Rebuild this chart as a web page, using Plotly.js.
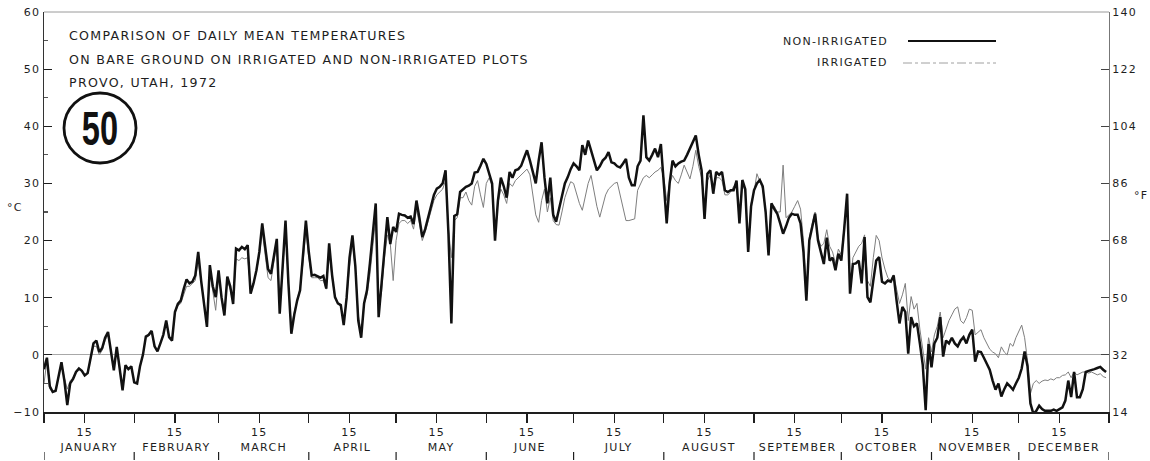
<!DOCTYPE html>
<html><head><meta charset="utf-8">
<script src="https://cdn.plot.ly/plotly-3.0.1.min.js"></script>
<style>
html,body{margin:0;padding:0;background:#fff;}
#chart{width:1150px;height:461px;}
svg text{letter-spacing:1.3px;}
#chart .annotation[data-index="0"] text{letter-spacing:0;transform:scaleX(0.68);transform-box:fill-box;transform-origin:center;}
</style></head><body><div id="chart"></div>
<script>
// ---- categories / ticks ----
const monthNames = ['JANUARY','FEBRUARY','MARCH','APRIL','MAY','JUNE','JULY','AUGUST','SEPTEMBER','OCTOBER','NOVEMBER','DECEMBER'];
const monthLengths = [31,29,31,30,31,30,31,31,30,31,30,31];
const midMonthLabel = '15';
const celsiusTicks = [-10,0,10,20,30,40,50,60];
const fahrenheitTicks = [14,32,50,68,86,104,122,140];

// ---- daily mean temperature, deg C, NON-IRRIGATED plot ----
const nonJan = [-2.5,-0.5,-5.5,-6.5,-6.3,-3.5,-1.3,-4.5,-8.8,-5.0,-4.2,-3.0,-2.4,-2.8,-3.6,-3.2,-0.5,2.0,2.5,0.5,1.2,3.0,4.0,1.0,-2.7,1.4,-2.0,-6.2,-1.8,-2.5,-2.0];
const nonFeb = [-4.8,-5.0,-2.0,0.0,3.2,3.5,4.2,1.5,0.6,2.0,3.5,6.0,3.1,2.5,7.5,8.9,9.5,11.5,13.2,12.5,12.8,13.9,18.0,13.0,8.5,4.9,15.7,12.0,10.1];
const nonMar = [14.8,10.1,6.9,13.7,12.0,8.9,18.6,18.3,18.9,18.5,19.2,10.7,12.5,14.8,18.0,23.0,19.0,15.0,14.2,17.0,20.3,7.2,15.0,23.5,12.5,3.7,7.0,9.5,11.3,18.3,23.5];
const nonApr = [18.0,13.9,14.0,13.8,13.5,13.8,11.6,19.5,14.0,10.1,9.0,8.7,5.2,10.0,17.0,20.9,15.5,6.0,3.0,9.0,11.3,16.0,22.0,26.5,6.6,12.0,18.0,24.1,19.4,22.4];
const nonMay = [21.5,24.7,24.5,24.4,24.0,24.2,22.9,27.0,24.0,20.6,22.0,24.0,26.5,28.0,29.1,29.4,30.0,32.3,21.1,5.5,24.3,24.6,28.5,29.0,29.4,29.6,30.0,31.9,32.0,33.1,34.3];
const nonJun = [33.4,31.5,30.0,20.0,27.0,31.0,29.5,27.5,32.0,31.0,32.3,32.5,33.1,34.5,35.8,34.0,32.0,30.0,34.0,37.2,31.0,26.5,31.0,24.5,23.3,25.5,28.0,30.0,31.1,32.5];
const nonJul = [33.5,33.0,32.3,36.7,35.0,37.5,35.8,34.0,32.3,33.0,34.0,34.5,35.5,33.7,33.5,33.0,32.8,33.5,34.3,31.0,29.7,29.7,33.0,34.0,41.9,34.6,34.0,35.0,36.1,34.6,36.9];
const nonAug = [30.0,23.0,30.0,34.0,33.0,33.5,33.8,34.0,35.0,36.1,37.0,38.4,35.0,32.3,23.8,31.7,32.3,28.2,32.0,31.5,32.0,28.8,28.5,28.8,28.8,30.5,23.0,30.6,29.0,18.0,26.0];
const nonSep = [28.8,30.0,30.6,29.5,25.0,17.4,26.5,25.5,24.7,23.0,21.2,22.5,24.0,24.7,24.5,24.5,23.0,18.0,9.5,20.0,22.5,24.7,20.0,18.0,15.9,20.5,16.5,17.0,14.8,17.7];
const nonOct = [16.5,22.0,28.2,10.7,15.9,16.0,16.5,12.5,20.6,10.1,9.2,13.0,16.5,17.1,12.8,12.5,13.0,12.8,13.9,9.5,5.5,8.4,7.5,0.2,6.6,5.0,5.5,2.0,-1.8,-9.7,1.9];
const nonNov = [-2.2,2.0,3.0,6.6,-0.3,2.5,2.0,3.0,2.0,1.5,2.5,3.1,2.0,3.5,4.4,-1.2,0.6,0.5,-0.5,-1.5,-2.6,-4.5,-6.1,-5.0,-7.3,-6.0,-5.0,-5.5,-6.1,-5.0];
const nonDec = [-4.0,-2.4,0.6,-2.0,-8.5,-10.3,-9.8,-8.9,-9.5,-9.8,-9.8,-9.8,-9.6,-9.8,-9.5,-9.2,-8.0,-4.5,-7.4,-3.0,-7.4,-7.4,-6.0,-3.0,-2.8,-2.7,-2.5,-2.3,-2.1,-2.6,-3.0];

// ---- daily mean temperature, deg C, IRRIGATED plot ----
const irrJan = [-5.0,-1.0,-6.0,-6.5,-6.0,-3.5,-1.5,-4.0,-6.0,-4.5,-4.0,-3.0,-2.4,-2.8,-3.6,-3.0,-0.8,1.5,1.5,0.0,0.8,2.5,3.5,0.8,-2.5,1.0,-2.0,-5.8,-2.0,-2.5,-2.2];
const irrFeb = [-4.8,-5.0,-2.0,0.0,3.0,3.3,4.0,1.5,0.8,2.0,3.3,5.8,3.3,2.8,7.3,8.6,9.0,10.5,12.0,12.0,12.5,13.0,16.5,12.5,8.5,5.5,14.5,11.0,7.8];
const irrMar = [13.5,9.8,7.0,13.0,11.5,9.0,16.8,16.5,17.0,16.8,17.0,11.5,12.5,14.5,17.5,21.5,17.5,13.5,13.0,16.0,19.5,8.0,14.5,22.0,12.5,5.0,7.5,9.5,11.5,16.0,22.0];
const irrApr = [17.0,13.5,13.5,13.5,13.0,13.0,11.5,18.0,13.5,10.0,9.0,8.5,5.5,9.5,15.5,19.5,15.0,7.0,4.0,9.0,10.5,14.0,19.0,24.0,8.0,11.0,17.0,21.0,19.5,13.0];
const irrMay = [20.0,23.0,23.5,23.5,23.0,23.5,22.0,25.5,23.0,20.0,21.5,23.5,25.5,27.0,28.0,28.5,29.0,30.5,22.0,17.0,23.5,24.0,27.5,27.5,28.5,27.0,26.2,29.5,30.5,28.0,25.8];
const irrJun = [30.0,31.0,29.5,22.0,26.5,29.0,28.0,26.5,30.0,29.5,30.5,31.0,31.5,32.0,32.5,31.5,28.0,24.5,23.2,27.0,29.0,25.0,27.5,23.5,22.8,22.7,25.0,27.5,29.0,30.3];
const irrJul = [30.0,28.0,26.5,25.3,27.5,30.0,31.4,28.5,26.0,24.1,26.0,28.0,29.0,29.5,30.0,30.2,28.0,25.5,23.5,23.5,23.6,23.8,28.8,30.0,31.0,31.4,31.0,31.5,32.0,32.3,32.8];
const irrAug = [31.0,27.0,30.0,31.4,30.5,30.0,31.5,33.2,32.0,30.8,33.0,35.8,33.0,31.0,26.0,30.5,31.5,28.5,31.0,31.0,30.5,28.0,28.0,28.5,29.5,29.5,24.0,30.0,28.5,19.0,26.5];
const irrSep = [28.5,31.7,30.5,29.0,25.5,19.0,26.0,26.0,25.0,25.0,33.2,24.0,24.5,25.0,26.0,27.0,25.5,20.0,11.5,20.5,23.0,25.0,20.5,19.0,19.5,21.9,19.0,18.0,16.0,18.5];
const irrOct = [17.5,22.5,27.5,12.0,17.0,18.0,19.0,19.5,21.0,13.0,12.0,17.0,20.9,20.0,17.0,15.0,13.5,13.0,14.0,11.5,9.0,10.5,12.5,6.0,10.2,8.0,9.0,4.5,1.0,-2.5,3.0];
const irrNov = [0.5,3.5,5.0,7.5,3.0,4.5,6.0,7.0,8.0,8.4,6.0,5.5,6.5,8.0,7.8,3.5,4.0,4.4,3.0,2.0,1.0,0.5,0.2,-0.5,1.4,0.5,0.0,2.0,1.5,3.0];
const irrDec = [4.0,5.2,3.0,-1.0,-6.8,-5.0,-4.5,-5.0,-4.6,-4.4,-4.5,-4.2,-4.4,-4.0,-4.0,-3.6,-3.5,-3.0,-4.0,-3.0,-3.5,-3.2,-3.0,-3.0,-3.2,-3.0,-3.3,-3.5,-3.3,-3.8,-4.0];

// ---- assemble ----
const nonIrrigated = [].concat(nonJan,nonFeb,nonMar,nonApr,nonMay,nonJun,nonJul,nonAug,nonSep,nonOct,nonNov,nonDec);
const irrigated = [].concat(irrJan,irrFeb,irrMar,irrApr,irrMay,irrJun,irrJul,irrAug,irrSep,irrOct,irrNov,irrDec);
const days = nonIrrigated.map((_, i) => i);   // day of year 1972, Jan 1 = 0
const monthStarts = [0];
monthLengths.forEach(n => monthStarts.push(monthStarts[monthStarts.length-1] + n));
const yearLen = monthStarts[12];
const midMonthDays = monthStarts.slice(0,12).map(s => s + 14);
const monthCenters = monthStarts.slice(0,12).map((s,i) => (s + monthStarts[i+1]) / 2);
const xTickVals = monthStarts.concat(midMonthDays);
const xTickText = monthStarts.map(() => '').concat(midMonthDays.map(() => midMonthLabel));

// ---- page geometry helpers (decorations only) ----
const W = 1150, H = 461, L = 44, R = 1109, T = 12, B = 412;
const px = x => (x - L) / (R - L);
const py = y => (B - y) / (B - T);
const FONT = 'DejaVu Sans';
const ink = '#1e1e1e';

const traces = [
  {x: days, y: irrigated, type: 'scatter', mode: 'lines', name: 'IRRIGATED',
   line: {color: '#7e7e7e', width: 1}, hoverinfo: 'skip', xaxis: 'x', yaxis: 'y'},
  {x: [], y: [], type: 'scatter', mode: 'lines', name: 'degF scale', hoverinfo: 'skip', xaxis: 'x', yaxis: 'y2', showlegend: false},
  {x: days, y: nonIrrigated, type: 'scatter', mode: 'lines', name: 'NON-IRRIGATED',
   line: {color: '#111', width: 2.5}, hoverinfo: 'skip', xaxis: 'x2', yaxis: 'y'}
];

const shapes = [
  {type: 'line', xref: 'paper', yref: 'paper', x0: 0, x1: 1, y0: 1, y1: 1, line: {color: '#9a9a9a', width: 1}},
  {type: 'circle', xref: 'paper', yref: 'paper', x0: px(64), x1: px(136), y0: py(163), y1: py(93), line: {color: '#111', width: 2.8}},
  {type: 'line', xref: 'paper', yref: 'paper', x0: px(908), x1: px(996), y0: py(41), y1: py(41), line: {color: '#111', width: 2}},
  {type: 'line', xref: 'paper', yref: 'paper', x0: px(903), x1: px(996), y0: py(63), y1: py(63), line: {color: '#a0a0a0', width: 1, dash: 'dashdot'}}
].concat(monthStarts.map(s => ({type: 'line', xref: 'x', yref: 'paper', x0: s, x1: s, y0: py(452), y1: py(460), line: {color: ink, width: 1.2}})));

const ann = (text, x, y, opts) => Object.assign({text, x: px(x), y: py(y), xref: 'paper', yref: 'paper', showarrow: false,
  xanchor: 'left', yanchor: 'middle', font: {family: FONT, size: 11, color: ink}}, opts || {});

const annotations = [
  ann('50', 100, 128, {xanchor: 'center', font: {family: 'Liberation Sans', size: 48, weight: 700, color: '#111'}}),
  ann('COMPARISON OF DAILY MEAN TEMPERATURES', 67, 35, {font: {family: FONT, size: 12.6, color: ink}}),
  ann('ON BARE GROUND ON IRRIGATED AND NON-IRRIGATED PLOTS', 67, 59, {font: {family: FONT, size: 12.6, color: ink}}),
  ann('PROVO, UTAH, 1972', 67, 82, {font: {family: FONT, size: 12.6, color: ink}}),
  ann('NON-IRRIGATED', 890, 41, {xanchor: 'right'}),
  ann('IRRIGATED', 890, 63, {xanchor: 'right'}),
  ann('°C', 14.5, 207, {xanchor: 'center'}),
  ann('°F', 1141, 195, {xanchor: 'center'})
];

const layout = {
  width: W, height: H,
  margin: {l: L, r: W - R, t: T, b: H - B, pad: 0},
  paper_bgcolor: '#fff', plot_bgcolor: '#fff',
  showlegend: false,
  font: {family: FONT, size: 11, color: ink},
  xaxis: {range: [0, yearLen], tickmode: 'array', tickvals: xTickVals, ticktext: xTickText,
    ticks: 'outside', ticklen: 9, tickwidth: 1.2, tickcolor: ink, showline: true, linecolor: ink, linewidth: 1.5,
    showgrid: false, zeroline: false, tickfont: {family: FONT, size: 11, color: ink}, fixedrange: true},
  xaxis2: {overlaying: 'x', anchor: 'y', side: 'bottom', range: [0, yearLen], tickmode: 'array',
    tickvals: monthCenters, ticktext: monthNames, ticks: '', showline: false, showgrid: false, zeroline: false,
    ticklabelstandoff: 27, tickfont: {family: FONT, size: 11, color: ink}, fixedrange: true},
  yaxis: {range: [-10, 60], tickmode: 'array', tickvals: celsiusTicks, ticks: 'inside', ticklen: 8, tickwidth: 1.2,
    tickcolor: ink, showline: true, linecolor: '#333', linewidth: 1.5, showgrid: false,
    zeroline: true, zerolinecolor: '#a8a8a8', zerolinewidth: 1,
    minor: {dtick: 5, ticks: 'inside', ticklen: 4, tickcolor: '#555', showgrid: false},
    tickfont: {family: FONT, size: 11, color: ink}, fixedrange: true},
  yaxis2: {overlaying: 'y', side: 'right', anchor: 'x', range: [14, 140], autorange: false, tickmode: 'array', tickvals: fahrenheitTicks,
    ticks: 'inside', ticklen: 8, tickwidth: 1.2, tickcolor: '#444', showline: true, linecolor: '#777', linewidth: 1,
    showgrid: false, zeroline: false, tickfont: {family: FONT, size: 11, color: ink}, fixedrange: true},
  shapes: shapes,
  annotations: annotations
};

Plotly.newPlot('chart', traces, layout, {staticPlot: true, displayModeBar: false});
</script></body></html>
